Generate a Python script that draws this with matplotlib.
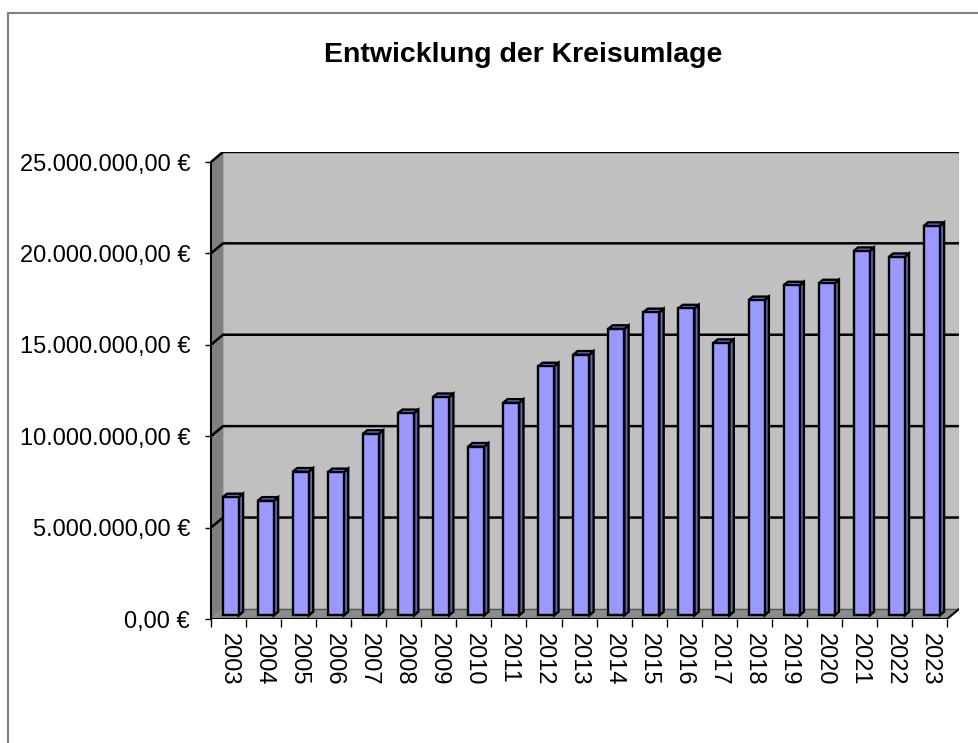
import matplotlib
matplotlib.use("Agg")
import matplotlib.pyplot as plt
from matplotlib.patches import Polygon
from matplotlib.lines import Line2D
from matplotlib.ticker import FuncFormatter, FixedLocator

plt.rcParams['font.family'] = ['Liberation Sans', 'DejaVu Sans']

title = "Entwicklung der Kreisumlage"
years = ["2003", "2004", "2005", "2006", "2007", "2008", "2009", "2010", "2011",
         "2012", "2013", "2014", "2015", "2016", "2017", "2018", "2019", "2020",
         "2021", "2022", "2023"]
values = [6.46e6, 6.27e6, 7.86e6, 7.83e6, 9.93e6, 11.06e6, 11.94e6, 9.23e6, 11.63e6,
          13.62e6, 14.26e6, 15.67e6, 16.58e6, 16.79e6, 14.90e6, 17.24e6, 18.05e6,
          18.16e6, 19.93e6, 19.60e6, 21.30e6]
yticks = [0, 5e6, 10e6, 15e6, 20e6, 25e6]

W, H = 978, 743
fig = plt.figure(figsize=(W / 100 + 0.001, H / 100 + 0.001), dpi=100)

# pixel geometry
px_left, px_right, px_top, px_bottom = 211, 959, 152, 619
ax = fig.add_axes([px_left / W, 1 - px_bottom / H, (px_right - px_left) / W,
                   (px_bottom - px_top) / H])

n = len(years)
ymax = yticks[-1]
px_per_cat = 35.05
px_per_unit = 18.24 / 1e6
DX = 12 / px_per_cat
DY = 10 / px_per_unit
ax.set_xlim(-0.5, n - 0.5 + DX)
ax.set_ylim(0, ymax + DY)
ax.set_autoscale_on(False)

# walls
back = Polygon([(-0.5 + DX, DY), (n - 0.5 + DX, DY), (n - 0.5 + DX, ymax + DY),
                (-0.5 + DX, ymax + DY)], closed=True, facecolor="#C0C0C0",
               edgecolor="#A8A8A8", lw=1, zorder=1)
ax.add_patch(back)
left = Polygon([(-0.5, 0), (-0.5 + DX, DY), (-0.5 + DX, ymax + DY), (-0.5, ymax)],
               closed=True, facecolor="#808080", edgecolor="none", zorder=1)
ax.add_patch(left)
floor = Polygon([(-0.5, 0), (n - 0.5, 0), (n - 0.5 + DX, DY), (-0.5 + DX, DY)],
                closed=True, facecolor="#8C8C8C", edgecolor="none", zorder=1)
ax.add_patch(floor)

# gridlines
for v in yticks[1:]:
    ax.plot([-0.5, -0.5 + DX, n - 0.5 + DX], [v, v + DY, v + DY], color="black",
            lw=1.8, zorder=2, solid_joinstyle="miter")
ax.plot([-0.5 + DX, n - 0.5 + DX], [DY, DY], color="#555555", lw=1, zorder=2)
# floor edges
ax.plot([-0.5, n - 0.5, n - 0.5 + DX], [0, 0, DY], color="black", lw=1.5, zorder=2)

# bars
f0, f1 = 0.36, 0.72
bw = 16 / px_per_cat
off = -0.06
for i, v in enumerate(values):
    x0 = i - bw / 2 + off + f0 * DX
    x1 = x0 + bw
    y0 = f0 * DY
    ddx = (f1 - f0) * DX
    ddy = (f1 - f0) * DY
    front = Polygon([(x0, y0), (x1, y0), (x1, y0 + v), (x0, y0 + v)], closed=True,
                    facecolor="#9999FF", edgecolor="black", lw=1.7, zorder=4,
                    joinstyle="miter")
    side = Polygon([(x1, y0), (x1 + ddx, y0 + ddy), (x1 + ddx, y0 + ddy + v),
                    (x1, y0 + v)], closed=True, facecolor="#6666B3",
                   edgecolor="black", lw=1.7, zorder=4, joinstyle="miter")
    top = Polygon([(x0, y0 + v), (x1, y0 + v), (x1 + ddx, y0 + v + ddy),
                   (x0 + ddx, y0 + v + ddy)], closed=True, facecolor="#7A7AD8",
                  edgecolor="black", lw=1.7, zorder=4, joinstyle="miter")
    for p in (side, top, front):
        ax.add_patch(p)

# axes styling
for s in ("top", "right"):
    ax.spines[s].set_visible(False)
ax.spines["bottom"].set_visible(False)
ax.spines["left"].set_bounds(0, ymax)
ax.spines["left"].set_linewidth(1.5)
ax.spines["left"].set_zorder(5)

ax.set_yticks(yticks)
ax.yaxis.set_major_formatter(FuncFormatter(
    lambda v, p: ("{:,.2f}".format(v)).replace(",", "X").replace(".", ",").replace("X", ".") + " €"))
ax.tick_params(axis="y", direction="out", length=4, width=1, pad=11,
               labelsize=17, colors="black")

ax.set_xticks(range(n))
ax.set_xticklabels(years, rotation=-90)
ax.xaxis.set_minor_locator(FixedLocator([i - 0.5 for i in range(n + 1)]))
ax.tick_params(axis="x", which="major", length=0, pad=10, labelsize=17)
ax.tick_params(axis="x", which="minor", direction="out", length=6, width=1)

# title
fig.text(523 / W, 1 - 62 / H, title, ha="center", va="baseline",
         fontsize=20.5, fontweight="bold")

# chart border
fig.add_artist(Line2D([8 / W, 8 / W, 1.0], [0, 1 - 13 / H, 1 - 13 / H],
                      transform=fig.transFigure, color="#808080", lw=1.5))

fig.savefig("out.png", dpi=100)
